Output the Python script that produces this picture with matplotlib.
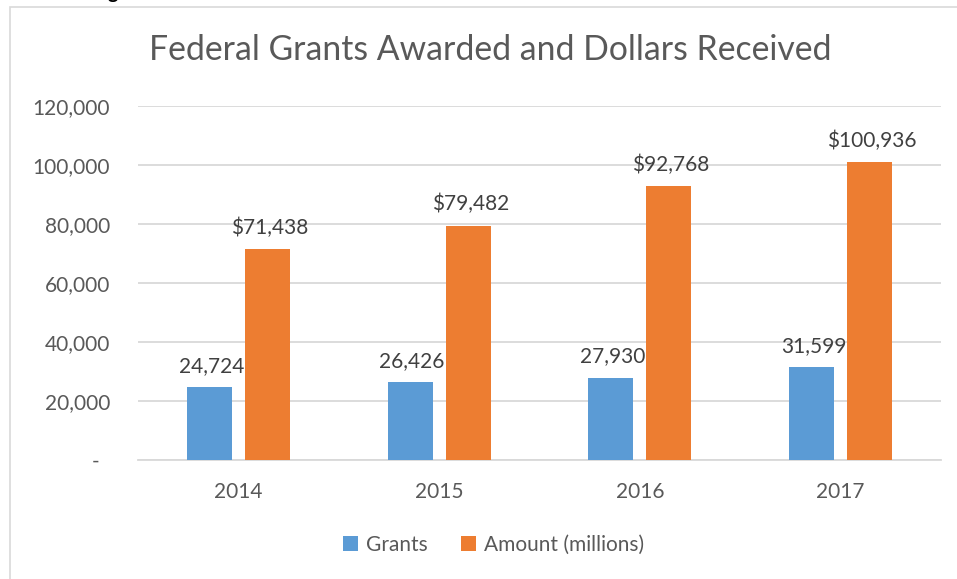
import matplotlib
matplotlib.use("Agg")
import matplotlib.pyplot as plt
from matplotlib.patches import Rectangle

plt.rcParams['font.family'] = ['Lato', 'DejaVu Sans']

# data
years = ['2014', '2015', '2016', '2017']
grants = [24724, 26426, 27930, 31599]
amount = [71438, 79482, 92768, 100936]
yticks = [0, 20000, 40000, 60000, 80000, 100000, 120000]

blue = '#5B9BD5'
orange = '#ED7D31'
grid_c = '#D9D9D9'
text_c = '#595959'
label_c = '#404040'

W, H = 957, 579
fig = plt.figure(figsize=(W / 100, H / 100), dpi=100)

# outer chart border (extends past the bottom/right of the crop)
fig.patches.append(Rectangle((10 / W, -0.05), 1.1, (H - 7) / H + 0.05,
                             transform=fig.transFigure, fill=False,
                             edgecolor=grid_c, linewidth=1.2))
# clipped text fragment at the very top
fig.text(113 / W, 1 + 1 / H, 'g', fontsize=14, fontweight='bold',
         color='black', ha='center', va='baseline')

ax = fig.add_axes([138 / W, (H - 460) / H, (941 - 138) / W, (460 - 106) / H])

x = list(range(len(years)))
bw = 0.224
off = 0.145
bars1 = ax.bar([i - off for i in x], grants, width=bw, color=blue, label='Grants', zorder=3)
bars2 = ax.bar([i + off for i in x], amount, width=bw, color=orange, label='Amount (millions)', zorder=3)

for b, v in zip(bars1, grants):
    ax.annotate(f'{v:,}', (b.get_x() + b.get_width() / 2 + 0.01, v), xytext=(0, 8),
                textcoords='offset points', ha='center', va='bottom',
                fontsize=15, color=label_c)
for b, v in zip(bars2, amount):
    ax.annotate(f'${v:,}', (b.get_x() + b.get_width() / 2 + 0.01, v), xytext=(0, 8),
                textcoords='offset points', ha='center', va='bottom',
                fontsize=15, color=label_c)

ax.set_xlim(-0.5, 3.5)
ax.set_ylim(0, 120000)
ax.set_yticks(yticks)
ax.set_yticklabels([f'{v:,}' if v else '-  ' for v in yticks])
ax.set_xticks(x)
ax.set_xticklabels(years)
ax.tick_params(axis='y', length=0, pad=20, labelsize=15, labelcolor=text_c)
ax.tick_params(axis='x', length=0, pad=16, labelsize=15, labelcolor=text_c)
ax.grid(axis='y', color=grid_c, linewidth=1.3, zorder=0)
for s in ['top', 'right', 'left']:
    ax.spines[s].set_visible(False)
ax.spines['bottom'].set_color(grid_c)
ax.spines['bottom'].set_linewidth(1.3)

fig.text(490 / W, 1 - 50 / H, 'Federal Grants Awarded and Dollars Received',
         fontsize=24.3, color=text_c, ha='center', va='center')

fig.legend(handles=[bars1, bars2], loc='center', bbox_to_anchor=(494 / W, 1 - 545 / H),
           ncol=2, frameon=False, fontsize=15, handlelength=0.7, handleheight=0.7,
           handletextpad=0.4, columnspacing=1.6, labelcolor=text_c)

fig.savefig('out.png', dpi=100)
